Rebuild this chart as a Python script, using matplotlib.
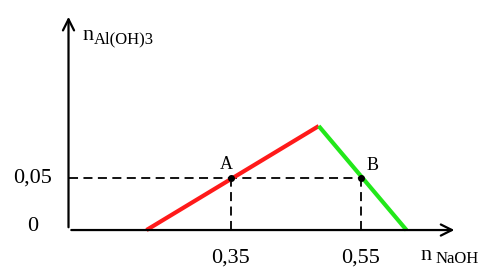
import matplotlib.pyplot as plt

# schematic data (x = n NaOH, y = n Al(OH)3)
red_x = [0.22, 0.485]
red_y = [0.0, 0.1]
green_x = [0.485, 0.62]
green_y = [0.1, 0.0]
points_x = [0.35, 0.55]
points_y = [0.05, 0.05]
point_labels = ["A", "B"]
x_origin = 0.1
x_end = 0.698
y_end = 0.2077

plt.rcParams['font.family'] = ['Liberation Serif', 'DejaVu Serif']

fig = plt.figure(figsize=(4.9, 2.76), dpi=100)
ax = fig.add_axes([0, 0, 1, 1])
ax.set_xlim(-0.0054, 0.7485)
ax.set_ylim(-0.0442, 0.2212)
ax.axis('off')

# axes with arrows
ax.annotate('', xy=(x_end, 0), xytext=(x_origin, 0),
            arrowprops=dict(arrowstyle='->', lw=1.6, color='black', mutation_scale=20))
ax.annotate('', xy=(x_origin, y_end), xytext=(x_origin, 0),
            arrowprops=dict(arrowstyle='->', lw=1.6, color='black', mutation_scale=20))

# dashed guides
ax.plot([x_origin, points_x[1]], [0.05, 0.05], 'k--', lw=1.3, dashes=(5, 3))
for px in points_x:
    ax.plot([px, px], [0, 0.05], 'k--', lw=1.3, dashes=(5, 3))

ax.plot(red_x, red_y, color='#ff1a1a', lw=3, solid_capstyle='butt')
ax.plot(green_x, green_y, color='#22e81a', lw=3, solid_capstyle='butt')

ax.plot(points_x, points_y, 'ko', ms=4)
ax.text(points_x[0] - 0.007, 0.05 + 0.013, point_labels[0], fontsize=13, ha='center', va='center')
ax.text(points_x[1] + 0.017, 0.05 + 0.012, point_labels[1], fontsize=13, ha='center', va='center')

# tick labels
ax.text(0.044, 0.05, "0,05", fontsize=16, ha='center', va='center')
ax.text(0.045, 0.003, "0", fontsize=16, ha='center', va='center')
ax.text(points_x[0], -0.031, "0,35", fontsize=16, ha='center', va='baseline')
ax.text(points_x[1], -0.031, "0,55", fontsize=16, ha='center', va='baseline')

# axis titles
ax.text(0.641, -0.029, "n", fontsize=16, ha='left', va='baseline')
ax.text(0.664, -0.032, "NaOH", fontsize=12, ha='left', va='baseline')
ax.text(0.122, 0.183, "n", fontsize=16, ha='left', va='baseline')
ax.text(0.139, 0.179, "Al(OH)3", fontsize=12, ha='left', va='baseline')

fig.savefig('out.png', dpi=100)
